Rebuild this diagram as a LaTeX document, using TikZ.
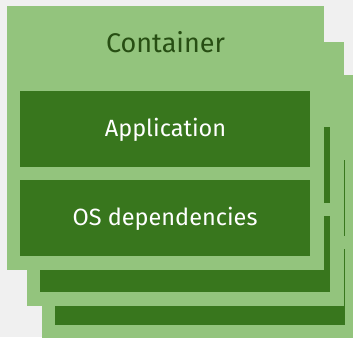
\documentclass[tikz,border=0pt]{standalone}
\usepackage{fontspec}
\setmainfont{Fira Sans}
\definecolor{bggray}{HTML}{F0F0F0}
\definecolor{lightgreen}{HTML}{93C47D}
\definecolor{darkgreen}{HTML}{38761D}
\definecolor{textgreen}{HTML}{274E13}
\tikzset{
    layer/.style={fill=lightgreen},
    part/.style={fill=darkgreen},
    partlabel/.style={text=white, font=\fontsize{23.5}{28}\selectfont},
}
\begin{document}
\begin{tikzpicture}[x=1pt,y=-1pt]
    %% frame
    \useasboundingbox (0,0) rectangle (353,337);
    \fill[bggray] (0,0) rectangle (353,337);
    \clip (0,0) rectangle (353,337);
    %% stacked containers, back to front
    \foreach \dx/\dy in {34.5/69, 20/36, 0/0} {
        \begin{scope}[shift={(\dx,\dy)}]
            \fill[layer] (7,6) rectangle (324,270);
            \fill[part] (20,91) rectangle (310,167);
            \fill[part] (20,180) rectangle (310,256);
        \end{scope}
    }
    %% labels
    \node[text=textgreen, font=\fontsize{27}{32}\selectfont] (container) at (165.5,42) {Container};
    \node[partlabel] (app) at (165.5,129.5) {Application};
    \node[partlabel] (osdeps) at (165,218.5) {OS dependencies};
\end{tikzpicture}
\end{document}
